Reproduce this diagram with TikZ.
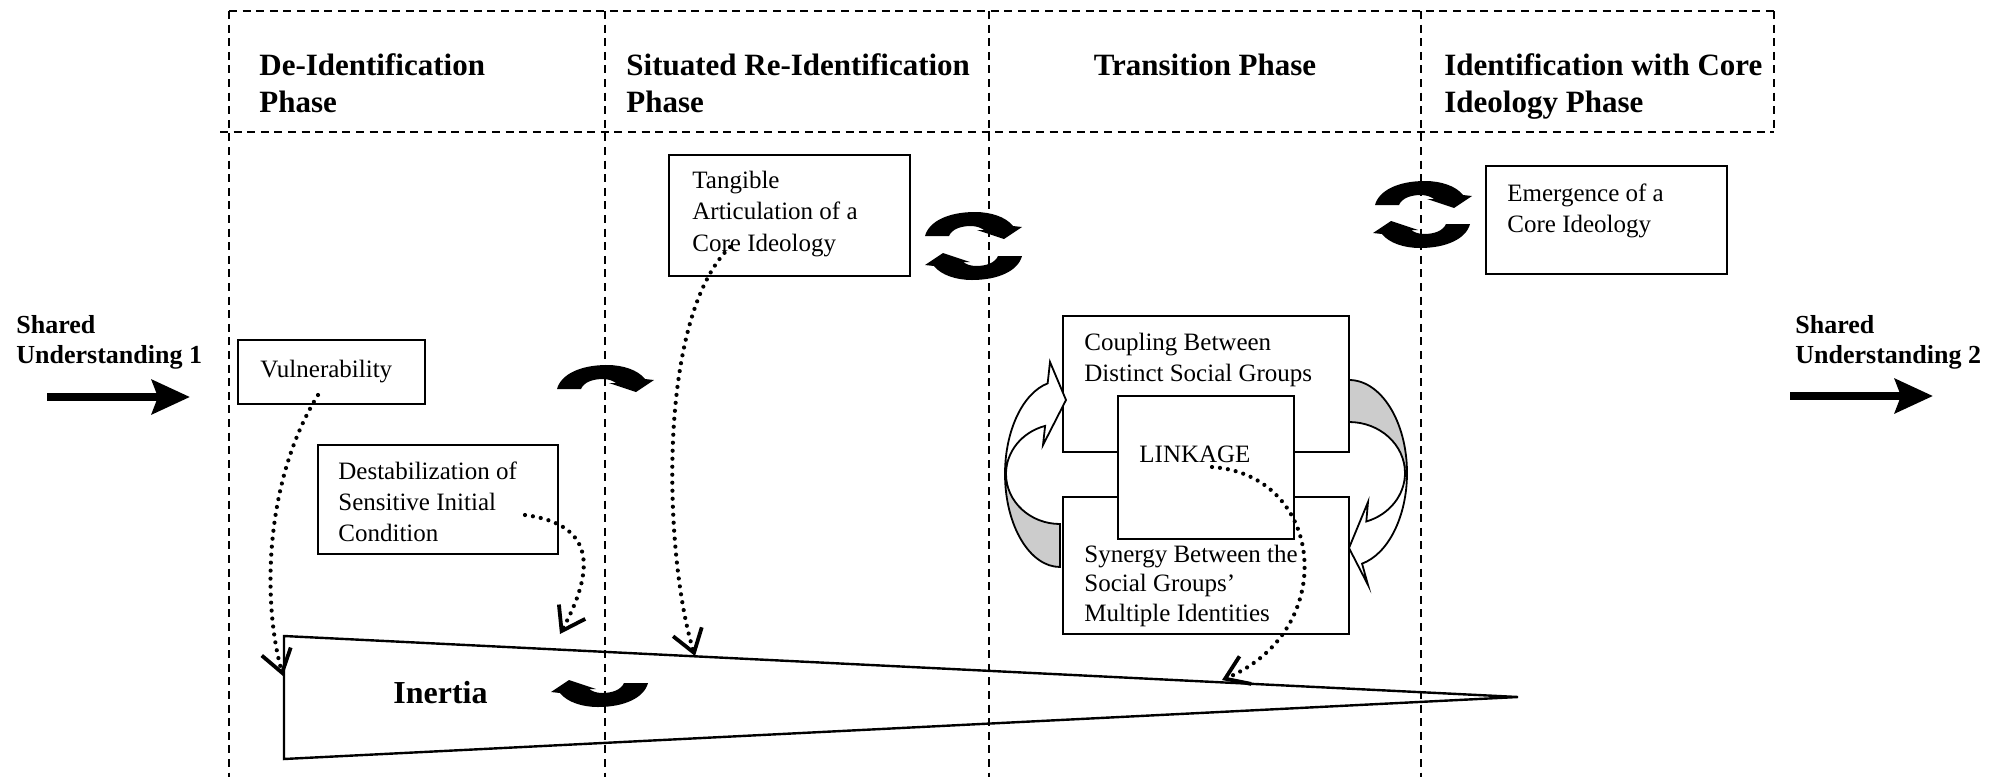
\documentclass[tikz,border=0pt]{standalone}
\usepackage{fontspec}
\setmainfont{Liberation Serif}
\usetikzlibrary{arrows.meta,fit}

% left-aligned stack of lines whose base is the first line's baseline
\newcommand{\stack}[1]{\begin{tabular}[t]{@{}l@{}}#1\end{tabular}}

\begin{document}
\begin{tikzpicture}[x=0.5pt,y=-0.5pt,
  phase/.style={draw, line width=1pt, dash pattern=on 4pt off 2.8pt},
  box/.style={draw, line width=0.9pt, fill=white, inner sep=0pt},
  body/.style={anchor=base west, inner sep=0pt, font=\fontsize{12.5}{15.75}\selectfont},
  head/.style={anchor=base west, inner sep=0pt, font=\bfseries\fontsize{15.5}{18.5}\selectfont},
  shared/.style={anchor=base west, inner sep=0pt, font=\bfseries\fontsize{13}{15}\selectfont},
  link/.style={line width=2.1pt, line cap=round, dash pattern=on 0pt off 4pt,
    -{Straight Barb[length=11pt,width=15pt,line width=1.9pt]}},
  bigarrow/.style={line width=4.2pt, -{Stealth[length=19pt,width=17pt,inset=3pt]}},
  band/.style={draw, line width=0.9pt, fill=white},
  backband/.style={draw, line width=0.9pt, fill=gray!40},
  cdown/.pic={
    \fill (0,23) -- (24,23) .. controls (27,16) and (36,13) .. (46,13)
      .. controls (52,13) and (56,15) .. (59,17) -- (52,17) -- (79,26) -- (97,14)
      -- (88,13) .. controls (81,4) and (66,-1) .. (50,-1)
      .. controls (24,-1) and (4,8) .. (0,23) -- cycle;
  }
]
\useasboundingbox (0,0) rectangle (2007,777);

% phase grid
\draw[phase] (229,11) -- (1774,11);
\draw[phase] (220,132) -- (1774,132);
\foreach \x in {229,605,989,1421} \draw[phase] (\x,11) -- (\x,777);
\draw[phase] (1774,11) -- (1774,132);

% phase headings
\node[head] (h1) at (259,75) {\stack{De-Identification\\Phase}};
\node[head] (h2) at (626,75) {\stack{Situated Re-Identification\\Phase}};
\node[head, anchor=base] (h3) at (1205,75) {Transition Phase};
\node[head] (h4) at (1444,75) {\stack{Identification with Core\\Ideology Phase}};

% shared understanding, in and out
\node[shared] (su1) at (16,333) {\stack{Shared\\Understanding 1}};
\node[shared] (su2) at (1795,333) {\stack{Shared\\Understanding 2}};
\coordinate (a1s) at (47,397);  \coordinate (a1e) at (190,397);
\coordinate (a2s) at (1790,396); \coordinate (a2e) at (1933,396);
\draw[bigarrow] (a1s) -- (a1e);
\draw[bigarrow] (a2s) -- (a2e);

% inertia wedge
\coordinate (w1) at (284,636);
\coordinate (w2) at (1518,697);
\coordinate (w3) at (284,759);
\draw[line width=1.2pt, line join=miter] (w1) -- (w2) -- (w3) -- cycle;
\node[anchor=base west, inner sep=0pt, font=\bfseries\fontsize{16}{19}\selectfont] (inertia) at (393,703) {Inertia};

% boxes
\node[box, fit={(238,340) (425,404)}] (vul) {};
\node[body] (vult) at (260,377) {Vulnerability};
\node[box, fit={(318,445) (558,554)}] (des) {};
\node[body, font=\fontsize{12.5}{15.5}\selectfont] (dest) at (338,479) {\stack{Destabilization of\\Sensitive Initial\\Condition}};
\node[box, fit={(669,155) (910,276)}] (tan) {};
\node[body] (tant) at (692,188) {\stack{Tangible\\Articulation of a\\Core Ideology}};
\node[box, fit={(1486,166) (1727,274)}] (eme) {};
\node[body] (emet) at (1507,201) {\stack{Emergence of a\\Core Ideology}};

\node[box, fit={(1063,316) (1349,452)}] (cou) {};
\node[body, font=\fontsize{12.5}{15.5}\selectfont] (cout) at (1084,350) {\stack{Coupling Between\\Distinct Social Groups}};
\node[box, fit={(1063,497) (1349,634)}] (syn) {};
\node[body, font=\fontsize{12.5}{14.75}\selectfont] (synt) at (1084,562) {\stack{Synergy Between the\\Social Groups’\\Multiple Identities}};
\node[box, fit={(1118,396) (1294,539)}] (lin) {};
\node[body] (lint) at (1139,462) {LINKAGE};

% curved block arrows around the linkage
\filldraw[backband] (1005,474) arc[start angle=180, end angle=90, x radius=55, y radius=93]
  -- (1060,524) arc[start angle=90, end angle=180, x radius=54, y radius=50] -- cycle;
\filldraw[band] (1005,474) arc[start angle=180, end angle=257, x radius=55, y radius=93]
  -- (1050,362) -- (1066,400) -- (1043,445) -- (1045.1,425.9)
  arc[start angle=254, end angle=180, x radius=54, y radius=50] -- cycle;
\filldraw[backband] (1407,473) arc[start angle=0, end angle=-90, x radius=58, y radius=93]
  -- (1349,422) arc[start angle=-90, end angle=0, x radius=56, y radius=51] -- cycle;
\filldraw[band] (1407,473) arc[start angle=0, end angle=77, x radius=58, y radius=93]
  -- (1368,585) -- (1349,548) -- (1368,502) -- (1366.3,521.5)
  arc[start angle=72, end angle=0, x radius=56, y radius=51] -- cycle;

% cycling arrows
\pic at (925,213) {cdown};
\pic[rotate=180] at (1022,279) {cdown};
\pic at (1375,182) {cdown};
\pic[rotate=180] at (1470,247) {cdown};
\pic at (557,366) {cdown};
\pic[rotate=180] at (648,706) {cdown};

% dotted influence links onto the wedge
\coordinate (v1) at (318,395);  \coordinate (v2) at (283,676);
\coordinate (d1) at (525,515);  \coordinate (d2) at (560,634);
\coordinate (t1) at (730,247);  \coordinate (t2) at (695,656);
\coordinate (l1) at (1212,467); \coordinate (l2) at (1222,680);
\draw[link] (v1) .. controls (265,480) and (262,600) .. (v2);
\draw[link] (d1) .. controls (600,525) and (592,575) .. (d2);
\draw[link] (t1) .. controls (655,320) and (665,560) .. (t2);
\draw[link] (l1) .. controls (1325,475) and (1340,630) .. (l2);
\end{tikzpicture}
\end{document}
